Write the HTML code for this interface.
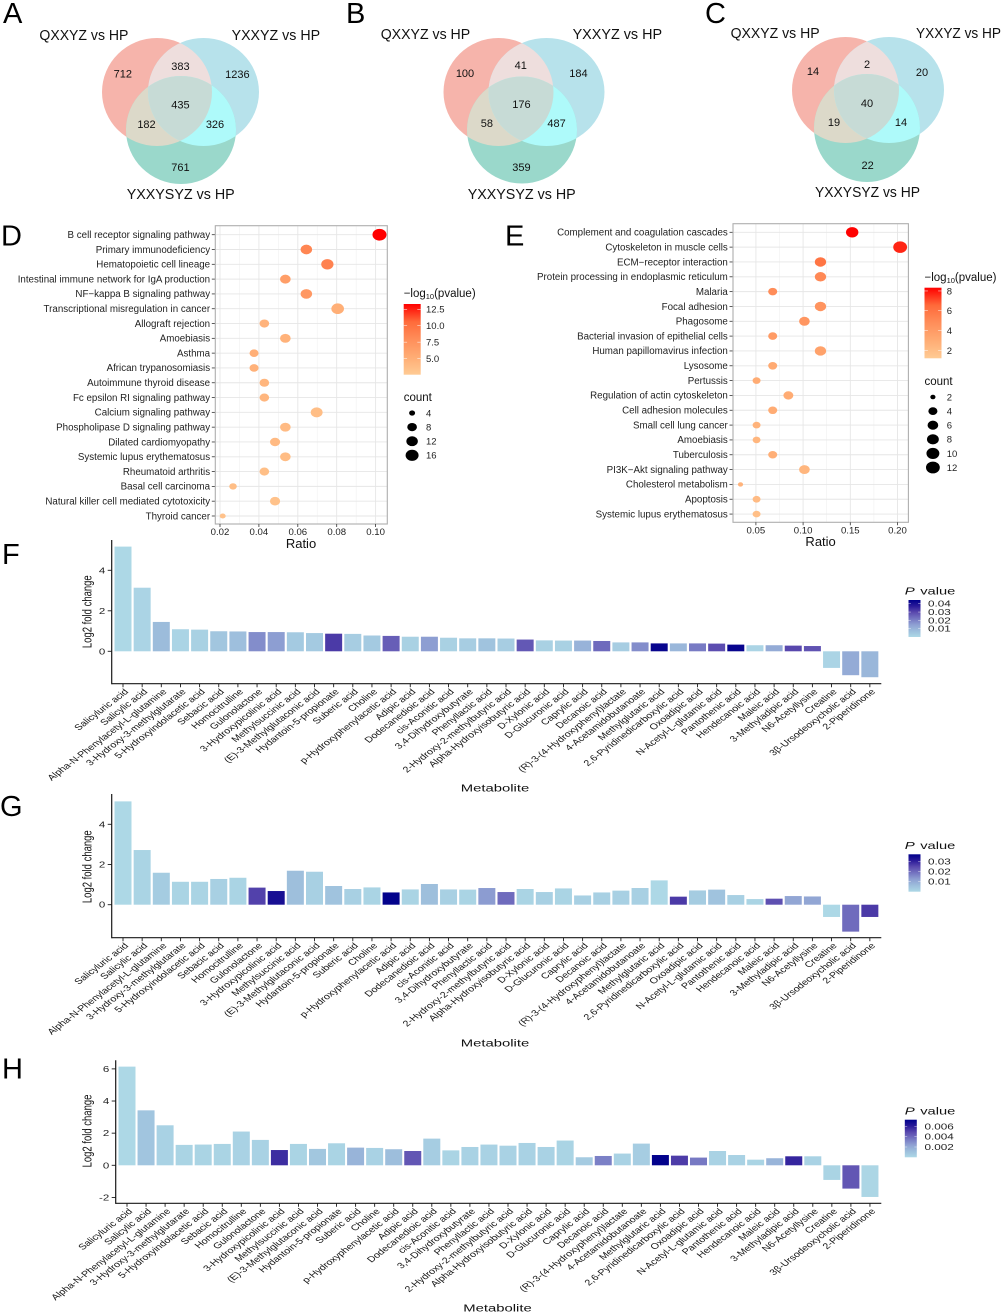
<!DOCTYPE html>
<html lang="en">
<head>
<meta charset="utf-8">
<title>Venn diagrams, pathway enrichment and metabolite fold change</title>
<style>
html,body{margin:0;padding:0;background:#fff;}
svg{display:block;font-family:"Liberation Sans",Arial,sans-serif;filter:blur(0.35px);}
</style>
</head>
<body>
<svg id="figure" xmlns="http://www.w3.org/2000/svg" width="1003" height="1313" viewBox="0 0 1003 1313">
<defs>
<clipPath id="al"><ellipse cx="157" cy="92" rx="55" ry="54"/></clipPath>
<clipPath id="ar"><ellipse cx="203.5" cy="92" rx="55.5" ry="54"/></clipPath>
<clipPath id="bl"><ellipse cx="498.5" cy="92" rx="55" ry="54"/></clipPath>
<clipPath id="br"><ellipse cx="546.5" cy="92" rx="58" ry="54"/></clipPath>
<clipPath id="cl"><ellipse cx="845.5" cy="90" rx="53.5" ry="53"/></clipPath>
<clipPath id="cr"><ellipse cx="889" cy="90" rx="55" ry="53"/></clipPath>
</defs>

<g>
<ellipse cx="157" cy="92" rx="55" ry="54" fill="#F6B4AB"/>
<ellipse cx="203.5" cy="92" rx="55.5" ry="54" fill="#B7E2EB"/>
<ellipse cx="181" cy="130" rx="55" ry="54" fill="#9AD8CB"/>
<g clip-path="url(#al)"><ellipse cx="203.5" cy="92" rx="55.5" ry="54" fill="#EEDEDD"/><ellipse cx="181" cy="130" rx="55" ry="54" fill="#DCD9C9"/></g>
<g clip-path="url(#ar)"><ellipse cx="181" cy="130" rx="55" ry="54" fill="#AEFAFA"/></g>
<g clip-path="url(#al)"><g clip-path="url(#ar)"><ellipse cx="181" cy="130" rx="55" ry="54" fill="#C7DBD6"/></g></g>
<g font-size="11" text-anchor="middle" fill="#111">
<text x="122.8" y="77.5">712</text>
<text x="180.4" y="70">383</text>
<text x="237.4" y="78">1236</text>
<text x="180.4" y="108.5">435</text>
<text x="146.5" y="128">182</text>
<text x="215" y="128">326</text>
<text x="180.4" y="171">761</text>
</g>
<g font-size="14.5" fill="#111">
<text x="39.4" y="40" textLength="89" lengthAdjust="spacingAndGlyphs">QXXYZ vs HP</text>
<text x="231.6" y="40" textLength="88.5" lengthAdjust="spacingAndGlyphs">YXXYZ vs HP</text>
<text x="126.7" y="199" textLength="108" lengthAdjust="spacingAndGlyphs">YXXYSYZ vs HP</text>
</g>
</g>

<g>
<ellipse cx="498.5" cy="92" rx="55" ry="54" fill="#F6B4AB"/>
<ellipse cx="546.5" cy="92" rx="58" ry="54" fill="#B7E2EB"/>
<ellipse cx="522" cy="130" rx="55" ry="53.5" fill="#9AD8CB"/>
<g clip-path="url(#bl)"><ellipse cx="546.5" cy="92" rx="58" ry="54" fill="#EEDEDD"/><ellipse cx="522" cy="130" rx="55" ry="53.5" fill="#DCD9C9"/></g>
<g clip-path="url(#br)"><ellipse cx="522" cy="130" rx="55" ry="53.5" fill="#AEFAFA"/></g>
<g clip-path="url(#bl)"><g clip-path="url(#br)"><ellipse cx="522" cy="130" rx="55" ry="53.5" fill="#C7DBD6"/></g></g>
<g font-size="11" text-anchor="middle" fill="#111">
<text x="465" y="77">100</text>
<text x="520.8" y="69">41</text>
<text x="578.4" y="77">184</text>
<text x="521.4" y="108">176</text>
<text x="486.9" y="127">58</text>
<text x="556.6" y="127">487</text>
<text x="521.4" y="171">359</text>
</g>
<g font-size="14.5" fill="#111">
<text x="380.7" y="39" textLength="89.5" lengthAdjust="spacingAndGlyphs">QXXYZ vs HP</text>
<text x="572.6" y="39" textLength="89.5" lengthAdjust="spacingAndGlyphs">YXXYZ vs HP</text>
<text x="467.7" y="199" textLength="108" lengthAdjust="spacingAndGlyphs">YXXYSYZ vs HP</text>
</g>
</g>

<g>
<ellipse cx="845.5" cy="90" rx="53.5" ry="53" fill="#F6B4AB"/>
<ellipse cx="889" cy="90" rx="55" ry="53" fill="#B7E2EB"/>
<ellipse cx="867" cy="128" rx="53" ry="54" fill="#9AD8CB"/>
<g clip-path="url(#cl)"><ellipse cx="889" cy="90" rx="55" ry="53" fill="#EEDEDD"/><ellipse cx="867" cy="128" rx="53" ry="54" fill="#DCD9C9"/></g>
<g clip-path="url(#cr)"><ellipse cx="867" cy="128" rx="53" ry="54" fill="#AEFAFA"/></g>
<g clip-path="url(#cl)"><g clip-path="url(#cr)"><ellipse cx="867" cy="128" rx="53" ry="54" fill="#C7DBD6"/></g></g>
<g font-size="11" text-anchor="middle" fill="#111">
<text x="813" y="75">14</text>
<text x="867" y="68">2</text>
<text x="922" y="76">20</text>
<text x="867" y="107">40</text>
<text x="834" y="126">19</text>
<text x="901" y="126">14</text>
<text x="867.6" y="169">22</text>
</g>
<g font-size="14.5" fill="#111">
<text x="730.6" y="38" textLength="89" lengthAdjust="spacingAndGlyphs">QXXYZ vs HP</text>
<text x="916" y="38" textLength="85" lengthAdjust="spacingAndGlyphs">YXXYZ vs HP</text>
<text x="815" y="197" textLength="105" lengthAdjust="spacingAndGlyphs">YXXYSYZ vs HP</text>
</g>
</g>

<g fill="#000" font-size="29">
<text x="3" y="23">A</text>
<text x="346" y="23">B</text>
<text x="705" y="23">C</text>
<text x="1" y="245.7">D</text>
<text x="505" y="245.7">E</text>
<text x="2" y="564">F</text>
<text x="0" y="816">G</text>
<text x="2" y="1078.7">H</text>
</g>
<g id="plots"></g>
</svg>

<script>
// ---------- Panel D data ----------
const dPathways = ["B cell receptor signaling pathway","Primary immunodeficiency","Hematopoietic cell lineage","Intestinal immune network for IgA production","NF\u2212kappa B signaling pathway","Transcriptional misregulation in cancer","Allograft rejection","Amoebiasis","Asthma","African trypanosomiasis","Autoimmune thyroid disease","Fc epsilon RI signaling pathway","Calcium signaling pathway","Phospholipase D signaling pathway","Dilated cardiomyopathy","Systemic lupus erythematosus","Rheumatoid arthritis","Basal cell carcinoma","Natural killer cell mediated cytotoxicity","Thyroid cancer"];
const dRatios = [0.102,0.0644,0.0752,0.0536,0.0644,0.0805,0.0428,0.0536,0.0375,0.0375,0.0428,0.0428,0.0697,0.0536,0.0483,0.0536,0.0428,0.0267,0.0483,0.0214];
const dCounts = [19,12,14,10,12,15,8,10,7,7,8,8,13,10,9,10,8,5,9,4];
const dLogP = [13.3,8.5,8.8,6.5,7,5,4.6,4.7,5,4.8,4.4,4.4,3.7,3.9,4,3.8,3.6,3.7,3.3,3.3];
const dXTicks = [0.02,0.04,0.06,0.08,0.10];
const dColorTicks = [12.5,10.0,7.5,5.0];
const dSizeTicks = [4,8,12,16];

// ---------- Panel E data ----------
const ePathways = ["Complement and coagulation cascades","Cytoskeleton in muscle cells","ECM\u2212receptor interaction","Protein processing in endoplasmic reticulum","Malaria","Focal adhesion","Phagosome","Bacterial invasion of epithelial cells","Human papillomavirus infection","Lysosome","Pertussis","Regulation of actin cytoskeleton","Cell adhesion molecules","Small cell lung cancer","Amoebiasis","Tuberculosis","PI3K\u2212Akt signaling pathway","Cholesterol metabolism","Apoptosis","Systemic lupus erythematosus"];
const eRatios = [0.152,0.2028,0.1184,0.1184,0.0678,0.1184,0.1014,0.0678,0.1184,0.0678,0.0507,0.0844,0.0678,0.0507,0.0507,0.0678,0.1014,0.0337,0.0507,0.0507];
const eCounts = [9,12,7,7,4,7,6,4,7,4,3,5,4,3,3,4,6,2,3,3];
const eLogP = [8.3,7.7,6,5,4.8,4.4,4.3,4,3.6,3.1,3,3,3,2.6,2.4,2.8,2.4,2.6,2.1,1.9];
const eXTicks = [0.05,0.10,0.15,0.20];
const eColorTicks = [8,6,4,2];
const eSizeTicks = [2,4,6,8,10,12];

// ---------- Metabolite bar data ----------
const metabolites = ["Salicyluric acid","Salicylic acid","Alpha-N-Phenylacetyl-L-glutamine","3-Hydroxy-3-methylglutarate","5-Hydroxyindolacetic acid","Sebacic acid","Homocitrulline","Gulonolactone","3-Hydroxypicolinic acid","Methylsuccinic acid","(E)-3-Methylglutaconic acid","Hydantoin-5-propionate","Suberic acid","Choline","p-Hydroxyphenylacetic acid","Adipic acid","Dodecanedioic acid","cis-Aconitic acid","3,4-Dihydroxybutyrate","Phenyllactic acid","2-Hydroxy-2-methylbutyric acid","Alpha-Hydroxyisobutyric acid","D-Xylonic acid","D-Glucuronic acid","Caprylic acid","Decanoic acid","(R)-3-(4-Hydroxyphenyl)lactate","4-Acetamidobutanoate","Methylglutaric acid","2,6-Pyridinedicarboxylic acid","Oxoadipic acid","N-Acetyl-L-glutamic acid","Pantothenic acid","Hendecanoic acid","Maleic acid","3-Methyladipic acid","N6-Acetyllysine","Creatine","3\u03B2-Ursodeoxycholic acid","2-Piperidinone"];

const fFold = [5.17,3.14,1.45,1.09,1.07,0.99,0.98,0.95,0.95,0.94,0.9,0.87,0.86,0.78,0.76,0.72,0.72,0.67,0.64,0.64,0.63,0.58,0.54,0.53,0.53,0.51,0.44,0.44,0.39,0.39,0.39,0.38,0.33,0.3,0.3,0.28,0.26,-0.82,-1.18,-1.28];
const fP = [0,0.001,0.008,0.001,0.002,0.005,0.007,0.018,0.015,0.004,0.004,0.032,0.003,0.004,0.026,0.002,0.015,0.002,0.003,0.006,0.003,0.027,0.002,0.002,0.01,0.024,0.003,0.018,0.043,0.009,0.021,0.029,0.043,0.001,0.012,0.03,0.028,0.001,0.012,0.009];
const fYTicks = [0,2,4];
const fPTicks = [0.04,0.03,0.02,0.01];

const gFold = [5.14,2.72,1.59,1.14,1.14,1.28,1.34,0.85,0.68,1.69,1.64,0.93,0.78,0.86,0.61,0.76,1.03,0.76,0.75,0.83,0.63,0.78,0.63,0.81,0.46,0.61,0.7,0.83,1.21,0.4,0.71,0.75,0.48,0.28,0.3,0.43,0.41,-0.61,-1.34,-0.61];
const gP = [0,0.001,0.003,0.001,0.001,0.002,0.001,0.026,0.034,0.006,0.002,0.005,0.002,0.001,0.037,0.001,0.006,0.002,0.001,0.013,0.02,0.001,0.002,0.001,0.002,0.002,0.002,0.002,0,0.027,0.003,0.005,0.002,0.001,0.024,0.011,0.011,0,0.02,0.027];
const gYTicks = [0,2,4];
const gPTicks = [0.03,0.02,0.01];

const hFold = [6.14,3.42,2.49,1.27,1.29,1.33,2.1,1.58,0.95,1.33,1.02,1.37,1.1,1.08,1.0,0.89,1.66,0.93,1.14,1.29,1.22,1.39,1.14,1.54,0.5,0.58,0.73,1.35,0.64,0.6,0.48,0.89,0.64,0.35,0.44,0.56,0.56,-0.91,-1.45,-1.97];
const hP = [0,0.0009,0.0003,0.0002,0.0002,0.0002,0.0003,0.0003,0.0056,0.0002,0.0008,0.0002,0.0016,0.0003,0.0012,0.0045,0.0005,0.0002,0.0003,0.0003,0.0003,0.0003,0.0003,0.0002,0.0006,0.0033,0.0003,0.0005,0.0072,0.0052,0.0035,0.0003,0.0003,0.0002,0.0016,0.0058,0.0003,0.0002,0.0045,0.0001];
const hYTicks = [-2,0,2,4,6];
const hPTicks = [0.006,0.004,0.002];

// ---------- Helpers ----------
const NS = 'http://www.w3.org/2000/svg';
const root = document.getElementById('plots');
const defs = document.querySelector('#figure defs');

function make(parent, tag, attrs) {
  const node = document.createElementNS(NS, tag);
  for (const k in attrs) node.setAttribute(k, attrs[k]);
  parent.appendChild(node);
  return node;
}
function write(parent, x, y, str, size, anchor, sx, extra, fill) {
  const node = make(parent, 'text', {
    transform: 'translate(' + x + ',' + y + ')' + (sx && sx !== 1 ? ' scale(' + sx + ',1)' : '') + (extra || ''),
    'font-size': size,
    'text-anchor': anchor || 'start',
    fill: fill || '#1f1f1f'
  });
  node.textContent = str;
  return node;
}
function hex(c) { return [parseInt(c.slice(1,3),16), parseInt(c.slice(3,5),16), parseInt(c.slice(5,7),16)]; }
function ramp(stops, t) {
  t = Math.max(0, Math.min(1, t));
  const f = t * (stops.length - 1);
  const i = Math.min(stops.length - 2, Math.floor(f));
  const a = hex(stops[i]), b = hex(stops[i + 1]), u = f - i;
  return 'rgb(' + [0,1,2].map(function (k) { return Math.round(a[k] + (b[k] - a[k]) * u); }).join(',') + ')';
}
function gradient(id, stops) {
  const g = make(defs, 'linearGradient', { id: id, x1: 0, y1: 1, x2: 0, y2: 0 });
  stops.forEach(function (c, i) {
    make(g, 'stop', { offset: i / (stops.length - 1), 'stop-color': c });
  });
}

const HEAT = ['#FFCB94','#FFAC74','#FF8E5A','#FF6A3A','#FF0000'];
const BLUES = ['#ADD8E6','#9DBEDC','#8E9FD2','#7474C1','#5A49AE','#2A1A99','#00008B'];
gradient('heat', HEAT);
gradient('blues', BLUES);

// ---------- Dot plot ----------
function dotPanel(c) {
  const g = make(root, 'g', {});
  
  
  const xScale = function (v) { return c.x0 + (v - c.xRef) * c.xPerUnit; };
  const yScale = function (i) { return c.yFirst + i * c.yStep; };
  const colT = function (v) { return (v - c.colMin) / (c.colMax - c.colMin); };
  const radius = function (n) { return c.rMin + (c.rMax - c.rMin) * Math.pow((n - c.nMin) / (c.nMax - c.nMin), c.rPow); };

  const panel = make(g, 'rect', { x: c.left, y: c.top, width: c.right - c.left, height: c.bottom - c.top, fill: '#fff' });
  
  

  const step = c.xTicks[1] - c.xTicks[0];
  for (let t = c.xTicks[0] - step / 2; t < c.xTicks[c.xTicks.length - 1] + step; t += step / 2) {
    const px = xScale(t);
    if (px <= c.left || px >= c.right) continue;
    const major = Math.abs(Math.round((t - c.xTicks[0]) / step) * step + c.xTicks[0] - t) < 1e-6;
    const gl = make(g, 'line', { x1: px, x2: px, y1: c.top, y2: c.bottom, stroke: major ? '#E6E6E6' : '#F1F1F1', 'stroke-width': major ? 0.9 : 0.6 });
    
    
  }

  c.names.forEach(function (name, i) {
    const y = yScale(i);
    const gl = make(g, 'line', { x1: c.left, x2: c.right, y1: y, y2: y, stroke: '#E6E6E6', 'stroke-width': 0.9 });
    
    
    const tk = make(g, 'line', { x1: c.left - 3.5, x2: c.left, y1: y, y2: y, stroke: '#333', 'stroke-width': 0.8 });
    
    
    const lb = write(g, c.left - 5.2, y + 3.3, name, c.labelSize, 'end');
    
    
  });

  c.ratios.forEach(function (r, i) {
    const rad = radius(c.counts[i]);
    const dot = make(g, 'ellipse', { cx: xScale(r), cy: yScale(i), rx: rad, ry: rad * 0.84, fill: ramp(HEAT, colT(c.logP[i])) });
    
    
  });

  const border = make(g, 'rect', { x: c.left, y: c.top, width: c.right - c.left, height: c.bottom - c.top, fill: 'none', stroke: '#AEAEAE', 'stroke-width': 1.1 });
  
  

  c.xTicks.forEach(function (t) {
    const px = xScale(t);
    const tk = make(g, 'line', { x1: px, x2: px, y1: c.bottom, y2: c.bottom + 3, stroke: '#333', 'stroke-width': 0.8 });
    
    
    const lb = write(g, px, c.bottom + 11.2, t.toFixed(2), 9.6, 'middle');
    
    
  });

  const xt = write(g, c.xTitleX, c.xTitleY, 'Ratio', 13, 'middle', 1, '', '#111');
  
  

  // colour legend
  const lt = write(g, c.legendX, c.legendTitleY, '\u2212log', 11.5, 'start', 1, '', '#111');
  
  
  const sub = make(lt, 'tspan', { dy: 2, 'font-size': 7.5 });
  sub.textContent = '10';
  const rest = make(lt, 'tspan', { dy: -2 });
  rest.textContent = '(pvalue)';

  const bar = make(g, 'rect', { x: c.legendX, y: c.barTop, width: 17, height: c.barBottom - c.barTop, fill: 'url(#heat)' });
  
  
  const barY = function (v) { return c.barBottom - (v - c.colMin) / (c.colMax - c.colMin) * (c.barBottom - c.barTop); };
  c.colorTicks.forEach(function (v) {
    const y = barY(v);
    const tk1 = make(g, 'line', { x1: c.legendX, x2: c.legendX + 3.4, y1: y, y2: y, stroke: '#fff', 'stroke-width': 0.5 });
    
    
    const tk2 = make(g, 'line', { x1: c.legendX + 13.6, x2: c.legendX + 17, y1: y, y2: y, stroke: '#fff', 'stroke-width': 0.5 });
    
    
    const lb = write(g, c.legendLabelX, y + 3.4, c.colorFormat(v), 9.5, 'start');
    
    
  });

  // size legend
  const ct = write(g, c.legendX, c.countTitleY, 'count', 11.5, 'start', 1, '', '#111');
  
  
  c.sizeTicks.forEach(function (n, i) {
    const y = c.sizeFirstY + i * c.sizeStep;
    const rad = radius(n);
    const d = make(g, 'ellipse', { cx: c.legendX + 8.4, cy: y, rx: rad, ry: rad * 0.86, fill: '#000' });
    
    
    const lb = write(g, c.legendLabelX, y + 3.4, String(n), 9.5, 'start');
    
    
  });
}

dotPanel({
  id: 'panel-d', names: dPathways, ratios: dRatios, counts: dCounts, logP: dLogP,
  xTicks: dXTicks, colorTicks: dColorTicks, sizeTicks: dSizeTicks,
  colorFormat: function (v) { return v.toFixed(1); },
  left: 215.3, right: 387.3, top: 225.7, bottom: 524,
  x0: 220, xRef: 0.02, xPerUnit: 1945, yFirst: 234.7, yStep: 14.805, labelSize: 9.75,
  colMin: 2.55, colMax: 13.3, nMin: 4, nMax: 19, rMin: 3, rMax: 7, rPow: 0.6,
  xTitleX: 301, xTitleY: 548, legendX: 403.7, legendTitleY: 297, legendLabelX: 426,
  barTop: 304, barBottom: 374.7, countTitleY: 401, sizeFirstY: 413, sizeStep: 14.1
});
dotPanel({
  id: 'panel-e', names: ePathways, ratios: eRatios, counts: eCounts, logP: eLogP,
  xTicks: eXTicks, colorTicks: eColorTicks, sizeTicks: eSizeTicks,
  colorFormat: function (v) { return String(v); },
  left: 733, right: 908.4, top: 223.7, bottom: 522.3,
  x0: 755.9, xRef: 0.05, xPerUnit: 944, yFirst: 232.3, yStep: 14.83, labelSize: 9.75,
  colMin: 1.2, colMax: 8.33, nMin: 2, nMax: 12, rMin: 2.6, rMax: 6.9, rPow: 0.5,
  xTitleX: 820.6, xTitleY: 546, legendX: 924.5, legendTitleY: 281, legendLabelX: 946.7,
  barTop: 287.7, barBottom: 358.3, countTitleY: 385, sizeFirstY: 397, sizeStep: 14.1
});

// ---------- Bar plot ----------
function barPanel(c) {
  const g = make(root, 'g', {});
  
  
  const xScale = function (i) { return c.xFirst + i * c.xStep; };
  const yScale = function (v) { return c.yZero - v * c.yPerUnit; };
  const colT = function (p) { return p / c.pMax; };

  c.fold.forEach(function (v, i) {
    const y0 = yScale(0), y1 = yScale(v);
    const b = make(g, 'rect', { x: xScale(i) - 8.5, y: Math.min(y0, y1), width: 17, height: Math.abs(y0 - y1), fill: ramp(BLUES, colT(c.p[i])) });
    
    
  });

  const ya = make(g, 'line', { x1: c.axisX, x2: c.axisX, y1: c.axisTop, y2: c.axisBottom + 0.6, stroke: '#1a1a1a', 'stroke-width': 1.2 });
  
  
  const xa = make(g, 'line', { x1: c.axisX, x2: 881.3, y1: c.axisBottom, y2: c.axisBottom, stroke: '#1a1a1a', 'stroke-width': 1.2 });
  
  

  c.yTicks.forEach(function (v) {
    const y = yScale(v);
    const tk = make(g, 'line', { x1: c.axisX - 4, x2: c.axisX, y1: y, y2: y, stroke: '#1a1a1a', 'stroke-width': 0.9 });
    
    
    const lb = write(g, c.axisX - 6.5, y + 3, String(v), 8.5, 'end', 1.35);
    
    
  });

  metabolites.forEach(function (name, i) {
    const px = xScale(i);
    const tk = make(g, 'line', { x1: px, x2: px, y1: c.axisBottom, y2: c.axisBottom + 3.5, stroke: '#1a1a1a', 'stroke-width': 0.9 });
    
    
    const lb = write(g, px + 6, c.axisBottom + 8.5, name, 8.3, 'end', 1.3, ' rotate(-45)', '#151515');
    
    
  });

  const yt = write(g, 91.5, c.yTitleY, 'Log2 fold change', 9.5, 'middle', 1.32, ' rotate(-90)', '#111');
  
  
  const xt = write(g, c.xTitleX, c.xTitleY, 'Metabolite', 9.9, 'middle', 1.5, '', '#111');
  
  

  // legend
  const lp = write(g, c.legendTitleX, c.legendTitleY, 'P', 10, 'start', 1.5, '', '#111');
  
  
  lp.setAttribute('font-style', 'italic');
  const lv = write(g, c.legendTitleX + 15.4, c.legendTitleY, 'value', 10, 'start', 1.47, '', '#111');
  
  

  const bar = make(g, 'rect', { x: c.legendX, y: c.barTop, width: 12, height: c.barBottom - c.barTop, fill: 'url(#blues)' });
  
  
  c.pTicks.forEach(function (p) {
    const y = c.barBottom - p / c.pMax * (c.barBottom - c.barTop);
    const tk = make(g, 'line', { x1: c.legendX, x2: c.legendX + 12, y1: y, y2: y, stroke: '#fff', 'stroke-width': 0.4, 'stroke-dasharray': '2.4 7.2' });
    
    
    const lb = write(g, c.legendLabelX, y + 2.9, String(p), 8.2, 'start', 1.43);
    
    
  });
}

barPanel({
  id: 'panel-f', fold: fFold, p: fP, yTicks: fYTicks, pTicks: fPTicks, pMax: 0.0445,
  xFirst: 123, xStep: 19.15, yZero: 651.3, yPerUnit: 20.25,
  axisX: 111.7, axisTop: 540, axisBottom: 683.7,
  yTitleY: 611.7, xTitleX: 495, xTitleY: 791.5,
  legendTitleX: 904.8, legendTitleY: 594.5, legendX: 908.5, legendLabelX: 928, barTop: 600, barBottom: 637
});
barPanel({
  id: 'panel-g', fold: gFold, p: gP, yTicks: gYTicks, pTicks: gPTicks, pMax: 0.0375,
  xFirst: 123, xStep: 19.15, yZero: 904.7, yPerUnit: 20.1,
  axisX: 111.7, axisTop: 794, axisBottom: 937.7,
  yTitleY: 866.7, xTitleX: 495, xTitleY: 1046.5,
  legendTitleX: 904.8, legendTitleY: 849.2, legendX: 908.5, legendLabelX: 928, barTop: 854.3, barBottom: 891.7
});
barPanel({
  id: 'panel-h', fold: hFold, p: hP, yTicks: hYTicks, pTicks: hPTicks, pMax: 0.0073,
  xFirst: 127, xStep: 19.05, yZero: 1165.3, yPerUnit: 16.07,
  axisX: 115.7, axisTop: 1060.3, axisBottom: 1203.3,
  yTitleY: 1131, xTitleX: 497.5, xTitleY: 1311.5,
  legendTitleX: 904.8, legendTitleY: 1114.5, legendX: 904.8, legendLabelX: 924.5, barTop: 1119.7, barBottom: 1157.3
});
</script>
</body>
</html>
